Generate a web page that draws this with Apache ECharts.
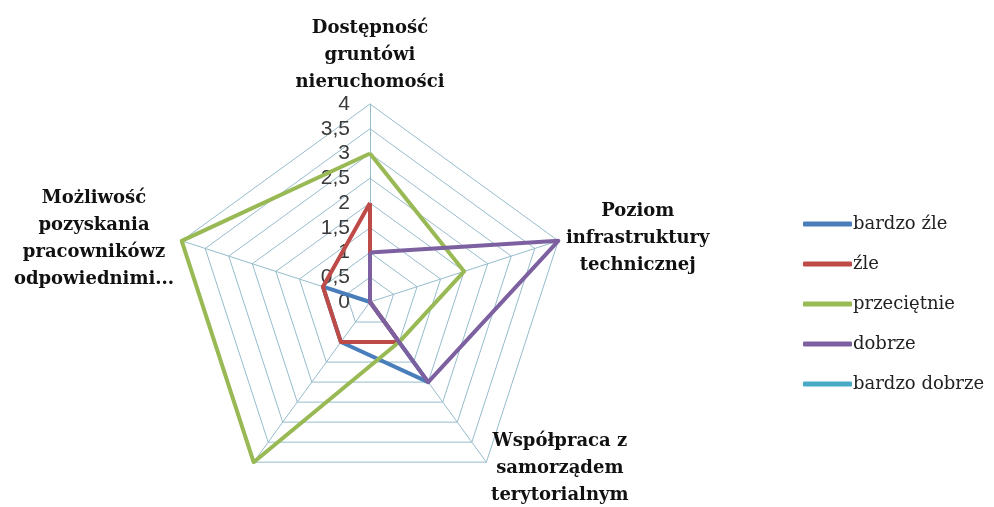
<!DOCTYPE html>
<html>
<head>
<meta charset="utf-8">
<script src="https://cdn.jsdelivr.net/npm/echarts@6/dist/echarts.min.js"></script>
<style>
  html, body { margin: 0; padding: 0; background: #fff; }
  #chart { width: 994px; height: 507px; }
</style>
</head>
<body>
<div id="chart"></div>
<script>
// axes, counter-clockwise from the top
var indicatorNames = [
  'Dostępność\ngruntówi\nnieruchomości',
  'Możliwość\npozyskania\npracownikówz\nodpowiednimi...',
  '',
  'Współpraca z\nsamorządem\nterytorialnym',
  'Poziom\ninfrastruktury\ntechnicznej'
];
var seriesNames = ['bardzo źle', 'źle', 'przeciętnie', 'dobrze', 'bardzo dobrze'];
var bardzoZle = [0, 1, 1, 2, 0];
var zle = [2, 1, 1, 1, 0];
var przecietnie = [3, 4, 4, 1, 2];
var dobrze = [1, 0, 0, 2, 4];
var bardzoDobrze = [0, 0, 0, 0, 0];
var colors = ['#4A7EBB', '#BE4B48', '#98B954', '#7D60A0', '#46AAC5'];
var maxValue = 4;

var allValues = [bardzoZle, zle, przecietnie, dobrze, bardzoDobrze];

var chartDom = document.getElementById('chart');
var myChart = echarts.init(chartDom);

var series = seriesNames.map(function (name, i) {
  return {
    name: name,
    type: 'radar',
    symbol: 'none',
    lineStyle: { width: 4, color: colors[i] },
    itemStyle: { color: colors[i] },
    data: [{ value: allValues[i], name: name }]
  };
});

var option = {
  animation: false,
  legend: {
    orient: 'vertical',
    left: 798,
    top: 209,
    itemWidth: 49,
    itemHeight: 5,
    itemGap: 20,
    icon: 'roundRect',
    textStyle: { fontFamily: 'DejaVu Serif', fontSize: 18, color: '#222', lineHeight: 20, padding: [0, 0, 0, -4] },
    data: seriesNames
  },
  radar: {
    center: [370, 302],
    radius: 198,
    startAngle: 90,
    splitNumber: 8,
    shape: 'polygon',
    nameGap: 8,
    axisName: {
      formatter: function (name) {
        if (!name) return '';
        return name.split('\n').map(function (l) { return '{a|' + l + '}'; }).join('\n');
      },
      rich: {
        a: {
          color: '#111',
          fontFamily: 'DejaVu Serif',
          fontWeight: 'bold',
          fontSize: 18,
          lineHeight: 27,
          align: 'center'
        }
      }
    },
    indicator: indicatorNames.map(function (n) { return { name: n, max: maxValue, min: 0 }; }),
    axisLine: { lineStyle: { color: '#96bccb', width: 1 } },
    splitLine: { lineStyle: { color: '#96bccb', width: 1 } },
    splitArea: { show: false }
  },
  polar: { center: [370, 302], radius: 198 },
  angleAxis: { show: false, startAngle: 90, min: 0, max: 360 },
  radiusAxis: {
    min: 0,
    max: maxValue,
    interval: 0.5,
    axisLine: { show: false },
    axisTick: { show: false },
    splitLine: { show: false },
    axisLabel: {
      show: true,
      margin: 20,
      color: '#3a3a3a',
      fontFamily: 'Liberation Sans',
      fontSize: 21,
      formatter: function (v) { return String(v).replace('.', ','); }
    }
  },
  series: series
};
option && myChart.setOption(option);
</script>
</body>
</html>
